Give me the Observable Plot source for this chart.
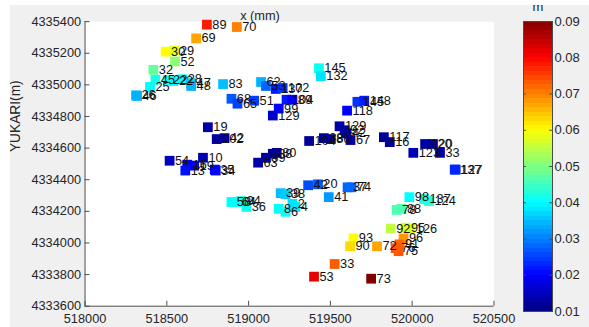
<!DOCTYPE html>
<html><head><meta charset="utf-8">
<script src="https://cdn.jsdelivr.net/npm/d3@7"></script>
<script src="https://cdn.jsdelivr.net/npm/@observablehq/plot@0.6"></script>
<style>
html,body{margin:0;padding:0;background:#fff;}
#fig{position:absolute;left:10px;top:5px;width:579px;height:322px;background:#f0f0f0;overflow:hidden;}
#fig svg{position:absolute;}
</style></head><body><div id="fig"></div>
<script>
const labels = ["89","70","69","30","29","52","32","45","25","26","46","22","22","28","47","48","83","68","65","51","62","53","137","102","104","89","99","129","145","132","145","148","118","129","92","42","104","38","86","67","117","16","120","20","123","33","137","127","19","102","42","54","10","16","19","13","35","34","63","39","88","80","58","64","94","36","39","38","8","6","2","4","42","20","37","74","41","98","137","124","78","88","92","95","126","93","90","72","96","91","76","75","33","53","73"];
const eastings = [518745,518928,518679,518493,518547,518550,518418,518430,518397,518312,518318,518505,518541,518595,518649,518649,518844,518895,518932,519034,519076,519106,519166,519208,519232,519268,519184,519148,519430,519442,519665,519707,519602,519556,519587,519599,519370,519460,519502,519623,519827,519863,520079,520127,520007,520170,520260,520266,518751,518805,518853,518517,518721,518625,518667,518613,518793,518799,519058,519106,519148,519172,518895,518925,518955,518986,519196,519226,519184,519226,519268,519286,519364,519424,519605,519629,519490,519983,520073,520103,519905,519935,519869,519959,519989,519641,519620,519785,519947,519923,519899,519917,519526,519400,519749];
const northings = [4335381,4335366,4335294,4335210,4335217,4335148,4335095,4335033,4334987,4334934,4334930,4335030,4335024,4335036,4335011,4334993,4335005,4334912,4334881,4334900,4335018,4334993,4334974,4334980,4334906,4334906,4334850,4334806,4335105,4335055,4334893,4334900,4334837,4334738,4334713,4334694,4334645,4334663,4334657,4334651,4334669,4334638,4334626,4334626,4334570,4334570,4334464,4334464,4334732,4334657,4334663,4334520,4334539,4334495,4334489,4334458,4334464,4334458,4334508,4334539,4334564,4334570,4334259,4334259,4334265,4334228,4334315,4334309,4334216,4334197,4334247,4334228,4334365,4334371,4334352,4334352,4334290,4334290,4334278,4334265,4334209,4334216,4334091,4334097,4334091,4334029,4333979,4333979,4334029,4333991,4333967,4333948,4333867,4333787,4333774];
const values = [0.078,0.070,0.067,0.060,0.058,0.051,0.048,0.042,0.040,0.034,0.034,0.042,0.040,0.040,0.036,0.034,0.035,0.027,0.025,0.025,0.034,0.028,0.022,0.024,0.022,0.020,0.020,0.016,0.041,0.038,0.024,0.022,0.020,0.013,0.013,0.012,0.012,0.012,0.013,0.012,0.012,0.012,0.013,0.012,0.014,0.013,0.023,0.023,0.013,0.012,0.012,0.015,0.014,0.020,0.020,0.021,0.020,0.020,0.013,0.012,0.012,0.012,0.040,0.040,0.041,0.041,0.035,0.036,0.040,0.041,0.038,0.038,0.026,0.027,0.028,0.028,0.032,0.040,0.042,0.043,0.046,0.046,0.055,0.057,0.057,0.060,0.063,0.067,0.068,0.072,0.073,0.073,0.073,0.082,0.090];
const xTicks = [518000,518500,519000,519500,520000,520500];
const yTicks = [4333600,4333800,4334000,4334200,4334400,4334600,4334800,4335000,4335200,4335400];
const cTicks = [0.01,0.02,0.03,0.04,0.05,0.06,0.07,0.08,0.09];
const jetStops = [0.01,0.02,0.04,0.06,0.08,0.09];
const jetColors = ["#000080","#0000ff","#00ffff","#ffff00","#ff0000","#800000"];
const xTitle = "x (mm)", yTitle = "YUKARI(m)", cTitle = "m";

const pts = labels.map((l,i)=>({label:l, x:eastings[i], y:northings[i], v:values[i]}));
const font = "'Liberation Sans', Arial, sans-serif";
const ink = "#262626", axisInk = "#4a4a4a";
const colorOpt = {type:"linear", domain:jetStops, range:jetColors, interpolate:"rgb"};
const X0 = 518000, X1 = 520500, Y0 = 4333600, Y1 = 4335400;
const xTickLen = (X1-X0)*5/416, yTickLen = (Y1-Y0)*5/289.5;

const main = Plot.plot({
  width:589, height:327, marginLeft:86, marginRight:87, marginTop:21.5, marginBottom:16,
  style:{background:"transparent", fontFamily:font, fontSize:"13px", color:ink, overflow:"visible"},
  x:{domain:[X0,X1]}, y:{domain:[Y0,Y1]},
  color:colorOpt,
  marks:[
    Plot.frame({fill:"white", stroke:null}),
    Plot.dot(pts, {x:"x", y:"y", fill:"v", symbol:"square", r:5.6}),
    Plot.text(pts, {x:"x", y:"y", text:"label", dx:5.5, textAnchor:"start", fill:"#111", fontSize:13}),
    Plot.ruleX([X0], {stroke:axisInk}),
    Plot.ruleY([Y0], {stroke:axisInk}),
    Plot.ruleX(xTicks, {x:d=>d, y1:Y0, y2:Y0+yTickLen, stroke:axisInk}),
    Plot.ruleY(yTicks, {y:d=>d, x1:X0, x2:X0+xTickLen, stroke:axisInk}),
    Plot.axisX(xTicks, {tickSize:0, tickPadding:8, tickFormat:d=>String(d), label:null, fontSize:13, fill:ink}),
    Plot.axisY(yTicks, {tickSize:0, tickPadding:4, tickFormat:d=>String(d), label:null, fontSize:13, fill:ink}),
    Plot.text([xTitle], {frameAnchor:"top", dx:-30, dy:-2, lineAnchor:"bottom", fontSize:13, fill:ink}),
    Plot.text([yTitle], {frameAnchor:"left", dx:-71, dy:-12, rotate:-90, fontSize:14, fill:ink})
  ]
});
main.style.left = "-10px"; main.style.top = "-5px";

const steps = d3.range(64).map(i=>({a:0.01+i*0.08/64, b:0.01+(i+1)*0.08/64}));
const cbar = Plot.plot({
  width:66, height:327, marginLeft:0, marginRight:37, marginTop:21, marginBottom:16,
  style:{background:"transparent", fontFamily:font, fontSize:"13px", color:ink, overflow:"visible"},
  x:{domain:[0,1], axis:null}, y:{domain:[0.01,0.09], axis:null},
  color:colorOpt,
  marks:[
    Plot.rect(steps, {x1:0, x2:1, y1:"a", y2:"b", fill:d=>(d.a+d.b)/2, shapeRendering:"crispEdges"}),
    Plot.frame({stroke:axisInk}),
    Plot.ruleY(cTicks, {y:d=>d, x1:0, x2:0.1, stroke:axisInk}),
    Plot.ruleY(cTicks, {y:d=>d, x1:0.9, x2:1, stroke:axisInk}),
    Plot.text(cTicks, {y:d=>d, x:1, dx:2, textAnchor:"start", text:d=>d.toFixed(2), fontSize:13, fill:ink}),
    Plot.text([cTitle], {frameAnchor:"top", dy:-11, lineAnchor:"bottom", fontSize:13, fill:ink})
  ]
});
cbar.style.left = "513px"; cbar.style.top = "-5px";

const fig = document.getElementById("fig");
fig.appendChild(main);
fig.appendChild(cbar);
</script></body></html>
